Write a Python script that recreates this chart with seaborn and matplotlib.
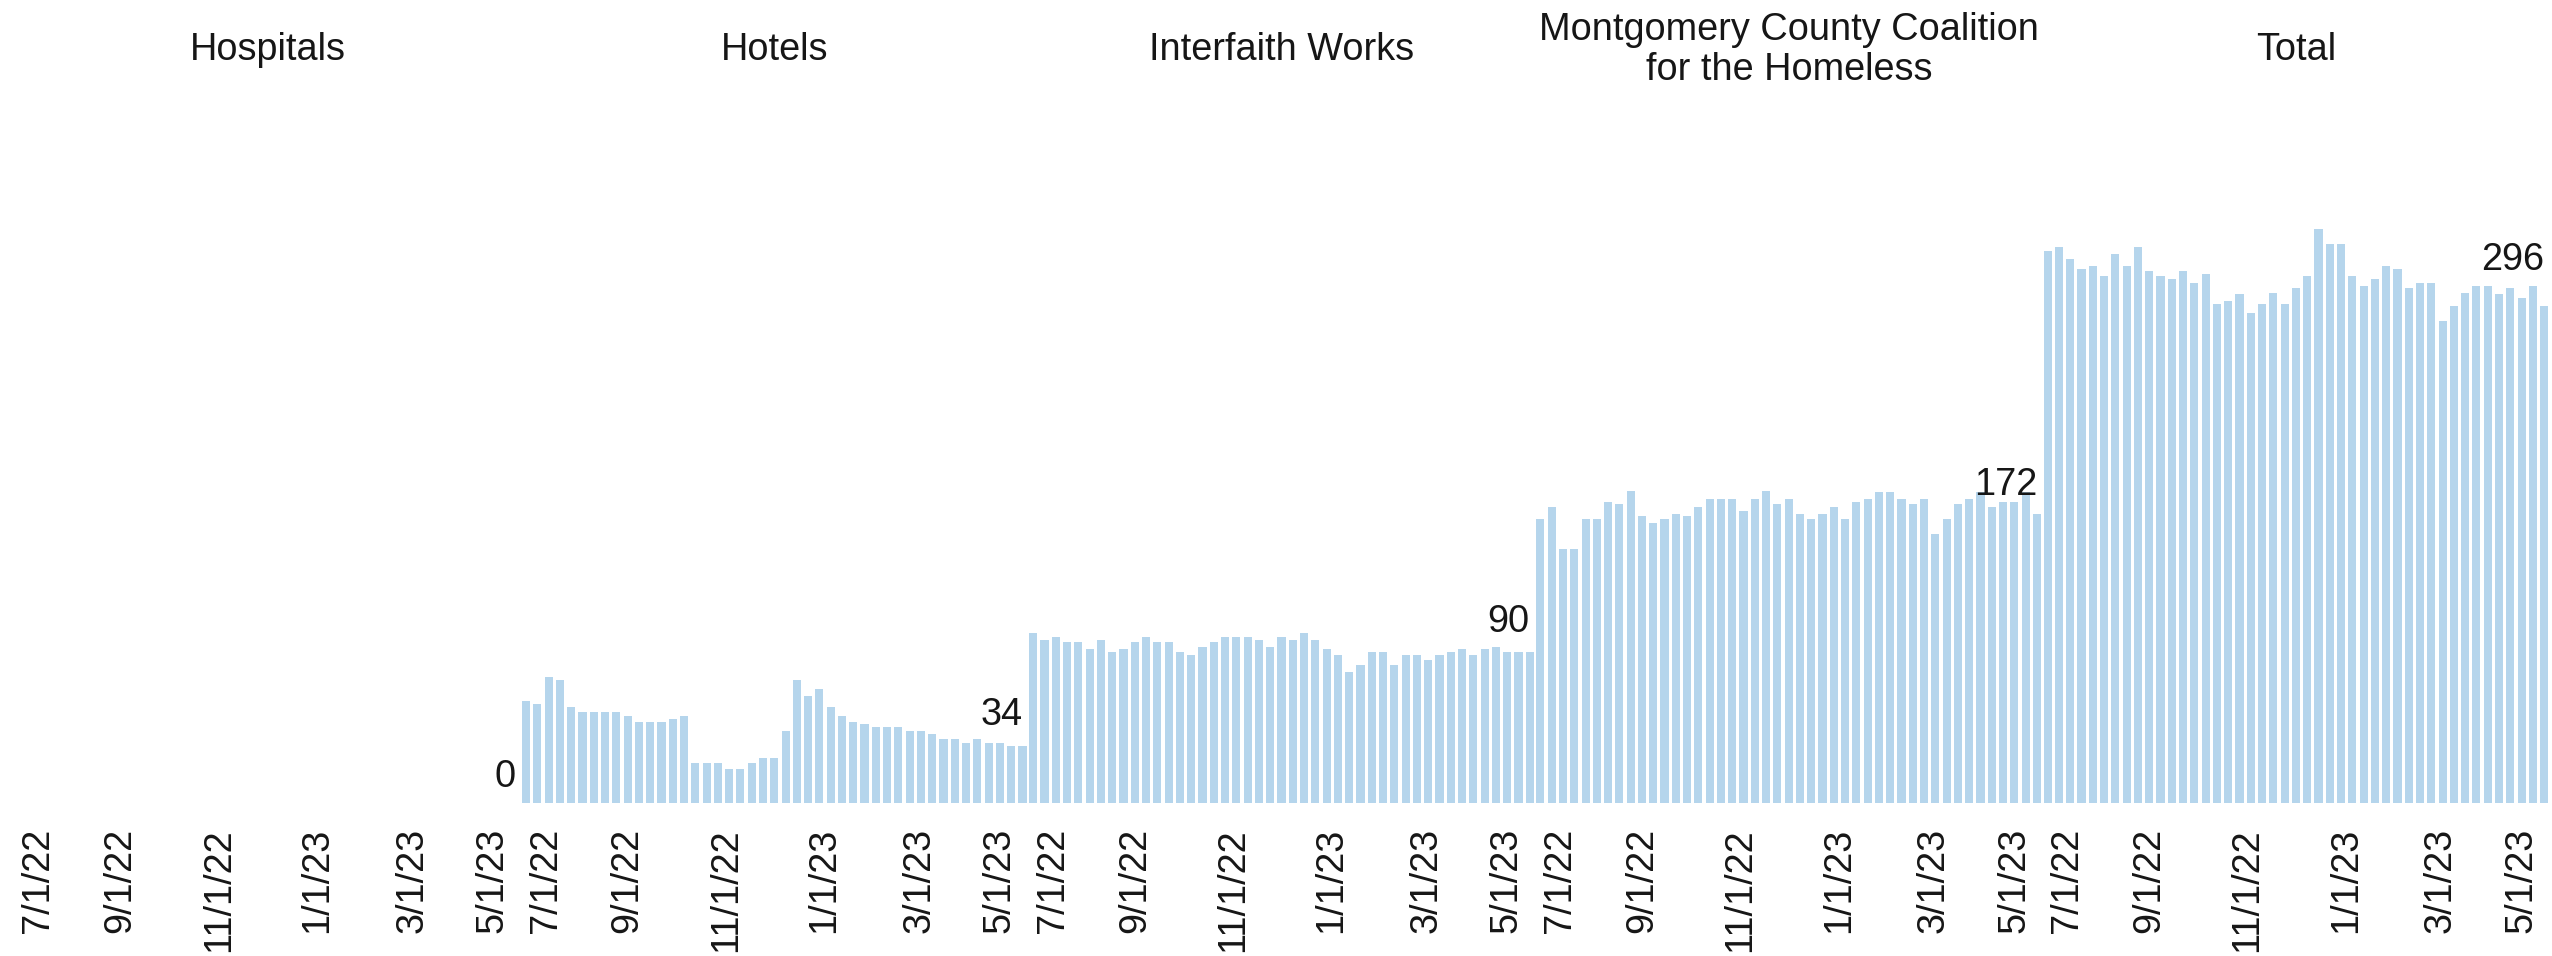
import numpy as np
import pandas as pd
import matplotlib
matplotlib.use("Agg")
import matplotlib.pyplot as plt
import matplotlib.dates as mdates
import matplotlib.transforms as mtransforms
import seaborn as sns

# ---------------- data ----------------
panels = ["Hospitals", "Hotels", "Interfaith Works",
          "Montgomery County Coalition\nfor the Homeless", "Total"]
week_start = "2022-06-30"
n_weeks = 45

hospitals = [0] * 45
hotels = [61, 59, 75, 73, 57, 54, 54, 54, 54, 52, 48, 48, 48, 50, 52,
          24, 24, 24, 20, 20, 24, 27, 27, 43, 73, 64, 68, 57, 52, 48,
          47, 45, 45, 45, 43, 43, 41, 38, 38, 36, 38, 36, 36, 34, 34]
interfaith = [101, 97, 99, 96, 96, 92, 97, 90, 92, 96, 99, 96, 96, 90, 88,
              93, 96, 99, 99, 99, 97, 93, 99, 97, 101, 97, 92, 88, 78, 82,
              90, 90, 82, 88, 88, 85, 88, 90, 92, 88, 92, 93, 90, 90, 90]
mcch = [169, 176, 151, 151, 169, 169, 179, 178, 186, 171, 167, 169, 172, 171, 176,
        181, 181, 181, 174, 181, 186, 178, 181, 172, 169, 172, 176, 169, 179, 181,
        185, 185, 181, 178, 181, 160, 169, 178, 181, 185, 176, 179, 179, 185, 172]
total = [329, 331, 324, 318, 320, 314, 327, 320, 331, 317, 314, 312, 317, 310, 315,
         297, 299, 303, 292, 297, 304, 297, 307, 314, 342, 333, 333, 314, 308, 312,
         320, 318, 307, 310, 310, 287, 296, 304, 308, 308, 303, 307, 301, 308, 296]

tick_dates = ["2022-07-01", "2022-09-01", "2022-11-01", "2023-01-01", "2023-03-01", "2023-05-01"]
tick_labels = ["7/1/22", "9/1/22", "11/1/22", "1/1/23", "3/1/23", "5/1/23"]
minor_tick_dates = ["2022-08-01", "2022-10-01", "2022-12-01", "2023-02-01", "2023-04-01"]

# ---------------- style / layout ----------------
BAR = "#b5d5ec"
TEXT = "#161616"
TICK = "#dcdcdc"
FS = 27.3
W, H = 2552, 956
PANEL_LEFT_PX = 14
PANEL_W_PX = 507.2
BASE_PX = 803          # pixel row of value 0
AXIS_PX = 805          # pixel row where ticks start
TOP_PX = 120
PX_PER_UNIT = 1.679
XMIN = "2022-06-27"
XSPAN_DAYS = PANEL_W_PX / 1.612
LABEL_SHIFT_PX = -3.5
label_offsets_px = [16, 21, 20, 19, 36]

sns.set_style("white")
plt.rcParams["font.family"] = ["Liberation Sans", "DejaVu Sans"]

dates = pd.date_range(week_start, periods=n_weeks, freq="7D")
xnum = mdates.date2num(dates)
series = [hospitals, hotels, interfaith, mcch, total]
df = pd.concat([
    pd.DataFrame({"panel": p, "x": xnum, "value": v})
    for p, v in zip(panels, series)
], ignore_index=True)

fig = plt.figure(figsize=(W / 100, H / 100), dpi=100)
bottom = (H - AXIS_PX) / H
height = (AXIS_PX - TOP_PX) / H
ymin = -(AXIS_PX - BASE_PX) / PX_PER_UNIT
ymax = (BASE_PX - TOP_PX) / PX_PER_UNIT
x0 = mdates.date2num(pd.Timestamp(XMIN))
x1 = x0 + XSPAN_DAYS
major = mdates.date2num(pd.to_datetime(tick_dates))
minor = mdates.date2num(pd.to_datetime(minor_tick_dates))
shift = mtransforms.ScaledTranslation(LABEL_SHIFT_PX / 100, 0, fig.dpi_scale_trans)

for i, name in enumerate(panels):
    left = (PANEL_LEFT_PX + i * PANEL_W_PX) / W
    ax = fig.add_axes([left, bottom, PANEL_W_PX / W, height])
    sub = df[df["panel"] == name]
    sns.barplot(data=sub, x="x", y="value", native_scale=True, color=BAR,
                saturation=1, width=0.72, errorbar=None, linewidth=0, ax=ax)
    ax.set_xlim(x0, x1)
    ax.set_ylim(ymin, ymax)
    ax.set_xlabel("")
    ax.set_ylabel("")
    ax.set_yticks([])
    ax.set_xticks(major)
    ax.set_xticklabels(tick_labels, rotation=90, fontsize=FS, color=TEXT)
    labs = ax.get_xticklabels()
    labs[0].set_ha("left")
    labs[-1].set_ha("right")
    for lab in labs[1:-1]:
        lab.set_transform(lab.get_transform() + shift)
    ax.set_xticks(minor, minor=True)
    ax.tick_params(axis="x", which="major", length=7.9, width=1.4, color=TICK, pad=8.6)
    ax.tick_params(axis="x", which="minor", length=2.2, width=1.4, color=TICK)
    for s in ax.spines.values():
        s.set_visible(False)
    ax.patch.set_alpha(0)

    last_x = sub["x"].iloc[-1]
    last_v = sub["value"].iloc[-1]
    ax.annotate(f"{last_v}", xy=(last_x, last_v),
                xytext=(0, label_offsets_px[i] * 0.72), textcoords="offset points",
                ha="right", va="baseline", fontsize=FS, color=TEXT,
                annotation_clip=False)

    fig.text(left + PANEL_W_PX / W / 2, 1 - 50 / H, name, ha="center", va="center",
             fontsize=FS, color=TEXT, linespacing=1.15)

fig.savefig("out.png", dpi=100, facecolor="white")
